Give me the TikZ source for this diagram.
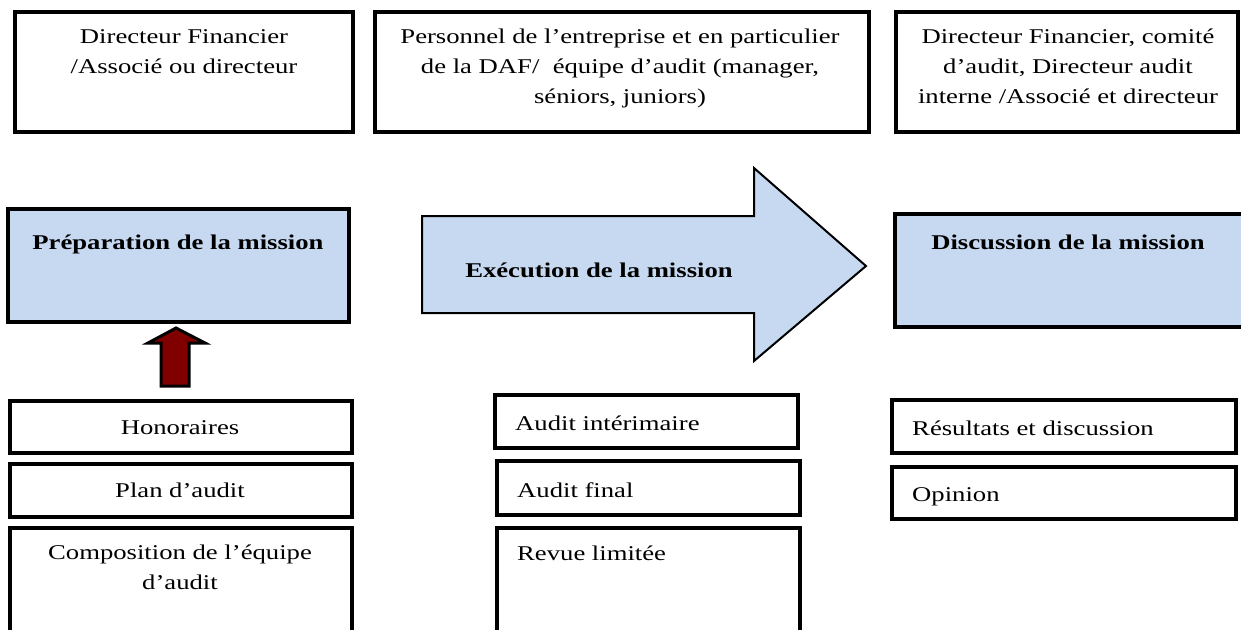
\documentclass[tikz,border=0pt]{standalone}
\usepackage{fontspec}
\setmainfont{Liberation Serif}[FakeStretch=1.27]
\definecolor{lblue}{HTML}{C6D9F1}
\definecolor{dred}{HTML}{800000}
\begin{document}
\begin{tikzpicture}[x=1pt,y=-1pt,
  box/.style={draw=black, line width=3.2pt, rectangle, inner sep=0pt, fill=white},
  fbox/.style={box, fill=lblue},
  txt/.style={inner sep=0pt, font=\fontsize{21}{30}\selectfont, align=center},
  btxt/.style={inner sep=0pt, font=\fontsize{21}{30}\selectfont\bfseries, align=center},
  bigarrow/.style={draw=black, fill=lblue, line width=2pt, line join=miter},
  uparrow/.style={draw=black, fill=dred, line width=3pt, line join=miter}]
\useasboundingbox (0,0) rectangle (1241,629);
\clip (0,0) rectangle (1241,629);

% top boxes
\node[box, minimum width=338pt, minimum height=120pt] (t1) at (184,72) {};
\node[box, minimum width=494pt, minimum height=120pt] (t2) at (622,72) {};
\node[box, minimum width=342pt, minimum height=120pt] (t3) at (1067,72) {};
\node[txt, anchor=north] (t1t) at (184,22) {\strut Directeur Financier\\/Associé ou directeur};
\node[txt, anchor=north] (t2t) at (620,22) {\strut Personnel de l’entreprise et en particulier\\de la DAF/\ \ équipe d’audit (manager,\\séniors, juniors)};
\node[txt, anchor=north] (t3t) at (1068,22) {\strut Directeur Financier, comité\\d’audit, Directeur audit\\interne /Associé et directeur};

% phase boxes
\node[fbox, minimum width=341pt, minimum height=113pt] (prep) at (178.5,265.5) {};
\node[btxt, anchor=base] (prept) at (178,249) {Préparation de la mission};
\node[fbox, minimum width=360pt, minimum height=113pt] (disc) at (1075,270.5) {};
\node[btxt, anchor=base] (disct) at (1068,249) {Discussion de la mission};

% execution arrow
\coordinate (ea) at (422,216);
\coordinate (eb) at (754,216);
\coordinate (ec) at (754,168);
\coordinate (tip) at (866,266);
\coordinate (ed) at (754,361);
\coordinate (ee) at (754,313);
\coordinate (ef) at (422,313);
\draw[bigarrow] (ea) -- (eb) -- (ec) -- (tip) -- (ed) -- (ee) -- (ef) -- cycle;
\node[btxt, anchor=base] (exe) at (599,277) {Exécution de la mission};

% left column boxes
\node[box, minimum width=342pt, minimum height=52pt] (hon) at (181,427) {};
\node[box, minimum width=342pt, minimum height=53pt] (plan) at (181,490.5) {};
\node[box, minimum width=342pt, minimum height=172pt] (comp) at (181,614) {};
\node[txt, anchor=base] (hont) at (180,434) {Honoraires};
\node[txt, anchor=base] (plant) at (180,497) {Plan d’audit};
\node[txt, anchor=north] (compt) at (180,538) {\strut Composition de l’équipe\\d’audit};

% red up arrow
\draw[uparrow] (161,386) -- (161,343) -- (148,343) -- (176,328) -- (205,343) -- (189,343) -- (189,386) -- cycle;

% middle column boxes
\node[box, minimum width=303pt, minimum height=53pt] (ai) at (646.5,421.5) {};
\node[box, minimum width=303pt, minimum height=54pt] (af) at (648.5,488) {};
\node[box, minimum width=303pt, minimum height=172pt] (rl) at (648.5,614) {};
\node[txt, anchor=base west] (ait) at (515,430) {Audit intérimaire};
\node[txt, anchor=base west] (aft) at (517,497) {Audit final};
\node[txt, anchor=base west] (rlt) at (517,560) {Revue limitée};

% right column boxes
\node[box, minimum width=344pt, minimum height=53pt] (res) at (1064,426.5) {};
\node[box, minimum width=344pt, minimum height=52pt] (opi) at (1064,493) {};
\node[txt, anchor=base west] (rest) at (912,435) {Résultats et discussion};
\node[txt, anchor=base west] (opit) at (912,501) {Opinion};
\end{tikzpicture}
\end{document}
